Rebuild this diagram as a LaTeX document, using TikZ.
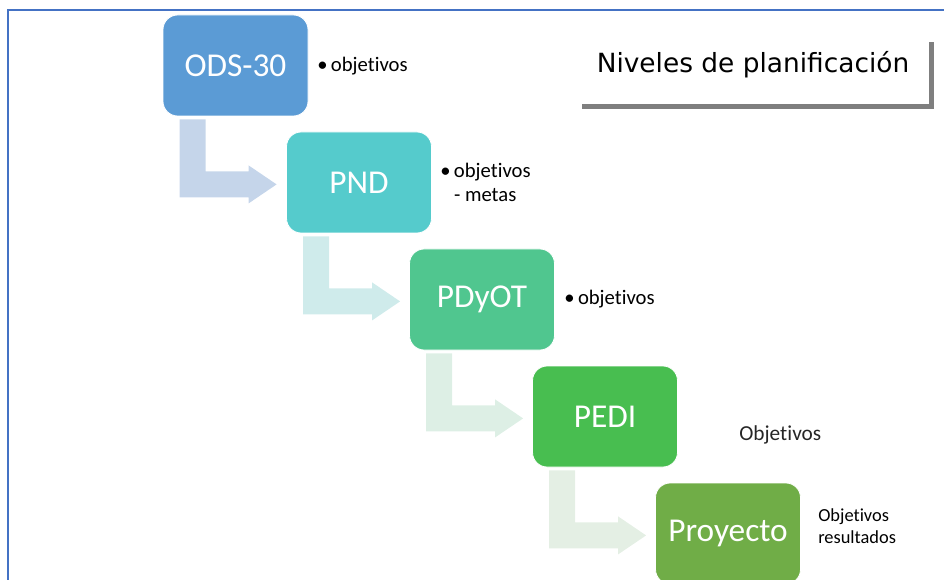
\documentclass[tikz,border=0pt]{standalone}
\usepackage{fontspec}
\setmainfont{Carlito}[RawFeature={-liga;-clig;-dlig}]
\newfontfamily\titlefont{DejaVu Sans}
\usetikzlibrary{calc}

\definecolor{odsblue}{HTML}{5B9BD5}
\definecolor{pndteal}{HTML}{55CBCC}
\definecolor{pdyotgreen}{HTML}{50C68F}
\definecolor{pedigreen}{HTML}{48BE50}
\definecolor{proygreen}{HTML}{70AD47}
\definecolor{frameblue}{HTML}{4472C4}
\definecolor{shadowgray}{HTML}{7F7F7F}

\tikzset{
  level/.style={rectangle, rounded corners=11pt, draw=white, line width=0.6pt,
    minimum width=108.75pt, minimum height=75.75pt, inner sep=0pt,
    text=white, font=\fontsize{25}{28}\selectfont},
  note/.style={anchor=west, inner sep=0pt, align=left, font=\fontsize{15.5}{18}\selectfont}
}

\begin{document}
\begin{tikzpicture}[x=0.75pt, y=-0.75pt]
\useasboundingbox (0,0) rectangle (944,580);

% First, the frame and the title
\draw[frameblue, line width=1.6pt] (8,585) -- (8,10) -- (950,10);
\draw[shadowgray, line width=3.75pt] (582,107) -- (931.5,107) -- (931.5,42);
\node[font=\titlefont\fontsize{19.8}{23}\selectfont] (title) at (753,65) {Niveles de planificación};

% Then, the levels
\node[level, fill=odsblue]    (ods)  at (235.5,65.5)  {ODS-30};
\node[level, fill=pndteal]    (pnd)  at (359,182.5)   {PND};
\node[level, fill=pdyotgreen] (pdot) at (482,299.5)   {PDyOT};
\node[level, fill=pedigreen]  (pedi) at (605,416.5)   {PEDI};
\node[level, fill=proygreen]  (proy) at (728,533.5)   {Proyecto};

% Bent arrows going down from each level to the next one
\foreach \a/\col in {ods/C5D5EA, pnd/CFEBEB, pdot/DDEFE5, pedi/E4EFE4} {
  \definecolor{arrcol}{HTML}{\col}
  \fill[arrcol] ($(\a.south west)+(17,3)$) -- ($(\a.south west)+(43,3)$)
    -- ($(\a.south west)+(43,55)$) -- ($(\a.south west)+(86,55)$)
    -- ($(\a.south west)+(86,49)$) -- ($(\a.south west)+(114,68)$)
    -- ($(\a.south west)+(86,87)$) -- ($(\a.south west)+(86,81)$)
    -- ($(\a.south west)+(17,81)$) -- cycle;
}

% Finally, the notes
\node[note] (n1) at (317,66) {\textbullet\,objetivos};
\node[note] (n2) at (440,182) {\textbullet\,objetivos\\\phantom{\textbullet\,}- metas};
\node[note] (n3) at (564,299) {\textbullet\,objetivos};
\node[note, font=\fontsize{16}{19}\selectfont\color{black!85}] (n4) at (739,435) {Objetivos};
\node[note, font=\fontsize{13.8}{16.5}\selectfont] (n5) at (818,526) {Objetivos\\resultados};

\end{tikzpicture}
\end{document}
